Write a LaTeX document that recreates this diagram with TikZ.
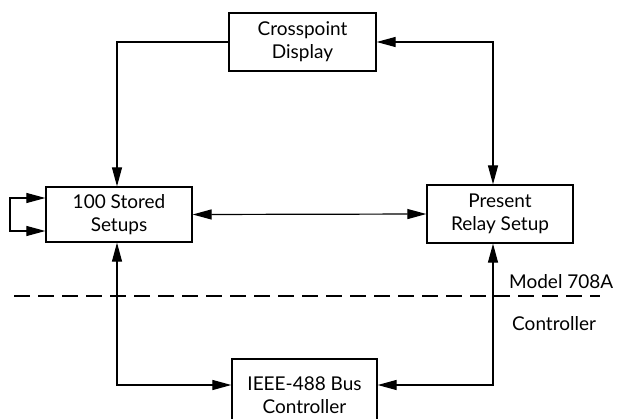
\documentclass[tikz,border=0pt]{standalone}
\usepackage{fontspec}
\setmainfont{Lato}
\usetikzlibrary{arrows.meta}
\begin{document}
\begin{tikzpicture}[x=1pt,y=-1pt,
  box/.style={draw, line width=1.3pt, align=center, font=\fontsize{19}{23}\selectfont, inner sep=0pt},
  conn/.style={line width=1.2pt},
  >={Triangle[length=19pt,width=10pt]},
  lbl/.style={anchor=base west, inner sep=0pt, font=\fontsize{19}{20}\selectfont}]
\useasboundingbox (0,0) rectangle (617,418);
\clip (0,0) rectangle (617,418);
\node[box, minimum width=147pt, minimum height=58pt] (cp) at (302.5,42) {Crosspoint\\Display};
\node[box, minimum width=146pt, minimum height=55pt] (ss) at (119,214.5) {100 Stored\\Setups};
\node[box, minimum width=146pt, minimum height=58pt] (pr) at (500,214) {Present\\Relay Setup};
\node[box, minimum width=145pt, minimum height=72pt] (ieee) at (304.5,395) {IEEE-488 Bus\\Controller};
\coordinate (tl) at (117,42);
\coordinate (tr) at (493,42);
\coordinate (bl) at (117,385);
\coordinate (br) at (493,385);
\coordinate (la) at (10,198);
\coordinate (lb) at (10,231);
\coordinate (d1) at (14,296);
\coordinate (d2) at (600,296);
\draw[conn,->] (cp.west) -- (tl) -- (tl |- ss.north);
\draw[conn,<->] (cp.east) -- (tr) -- (tr |- pr.north);
\draw[conn,<->] (ss.east) -- (pr.west);
\draw[conn,<->] (bl |- ss.south) -- (bl) -- (ieee.west |- bl);
\draw[conn,<->] (br |- pr.south) -- (br) -- (ieee.east |- br);
\draw[conn,<->] (ss.west |- la) -- (la) -- (lb) -- (ss.west |- lb);
\draw[conn, dash pattern=on 16pt off 8pt] (d1) -- (d2);
\node[lbl] (model) at (509,288) {Model 708A};
\node[lbl] (ctrl) at (512,330) {Controller};
\end{tikzpicture}
\end{document}
